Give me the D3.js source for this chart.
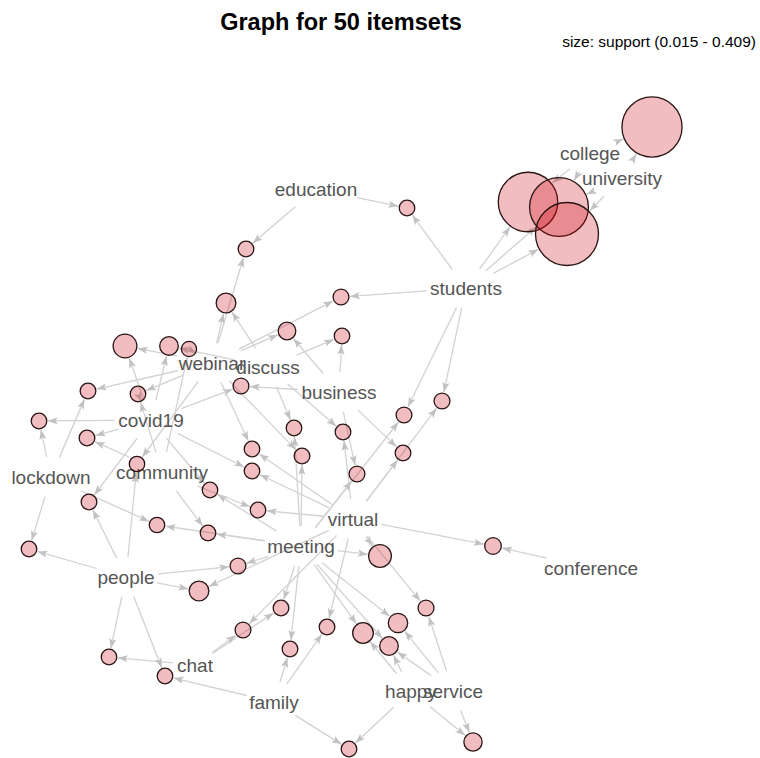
<!DOCTYPE html>
<html><head><meta charset="utf-8">
<script src="https://cdn.jsdelivr.net/npm/d3@7"></script>
<style>body{margin:0;background:#fff}svg{display:block}</style>
</head><body><svg id="c" width="760" height="758"></svg>
<script>
// ---- data ----
const title = "Graph for 50 itemsets";
const legendText = "size: support (0.015 - 0.409)";

const items = ["education","students","college","university","webinar","discuss","business","covid19","lockdown","community","virtual","meeting","people","conference","chat","family","happy","service"];
const itemX = [31.6,46.6,59.0,62.2,21.2,26.8,33.9,15.1,5.1,16.2,35.3,30.1,12.6,59.1,19.5,27.4,41.1,45.3];
const itemY = [18.9,28.8,15.3,17.8,36.3,36.7,39.2,42.0,47.7,47.2,51.9,54.6,57.7,56.8,66.5,70.2,69.1,69.1];

const itemsets = [
 ["education","students"],["education","webinar"],["webinar","discuss"],["students","webinar"],
 ["webinar","business"],["discuss","business"],["webinar","covid19"],["covid19","discuss"],
 ["webinar","community"],["webinar","lockdown"],["webinar","covid19","community"],["covid19","business"],
 ["covid19","lockdown"],["covid19","community"],["discuss","meeting"],["discuss","virtual"],
 ["students","meeting"],["students","virtual"],["webinar","virtual"],["webinar","meeting"],
 ["covid19","virtual"],["webinar","people"],["covid19","people"],["covid19","meeting"],
 ["business","meeting"],["business","virtual"],["community","virtual"],["lockdown","meeting"],
 ["community","meeting"],["lockdown","people"],["virtual","meeting"],["virtual","conference"],
 ["meeting","people"],["people","virtual"],["meeting","chat"],["virtual","service"],
 ["meeting","service"],["virtual","chat"],["virtual","family"],["meeting","happy"],
 ["meeting","happy","service"],["meeting","family"],["people","chat"],["people","family"],
 ["family","happy"],["happy","service"],
 ["college","university"],["students","college"],["students","college","university"],["students","university"]
];
const support = [0.018,0.019,0.052,0.020,0.035,0.018,0.085,0.043,0.015,0.019,0.018,0.020,
 0.018,0.019,0.018,0.019,0.020,0.021,0.018,0.019,0.018,0.017,0.019,0.018,0.020,0.019,0.018,
 0.017,0.018,0.018,0.077,0.027,0.020,0.052,0.019,0.021,0.050,0.020,0.019,0.060,0.043,0.019,
 0.018,0.018,0.018,0.040,0.385,0.380,0.375,0.409];
const setX = [40.7,24.6,22.6,34.1,28.7,34.2,12.5,16.9,18.9,8.8,13.8,24.1,3.9,8.7,29.4,34.3,
 40.4,44.2,25.2,30.2,25.2,13.7,8.9,21.0,35.7,40.3,25.8,15.7,20.8,2.9,38.0,49.3,23.8,19.9,
 28.1,42.6,39.8,24.3,32.7,36.3,38.9,29.0,10.9,16.5,34.9,47.3,65.2,52.8,55.9,56.7];
const setY = [20.8,24.9,30.3,29.7,33.1,33.6,34.6,34.6,34.9,39.1,39.4,38.6,42.1,43.8,42.8,43.2,
 41.5,40.1,44.9,45.6,47.1,46.4,50.2,49.0,47.4,45.3,51.0,52.5,53.3,54.9,55.6,54.6,56.6,59.1,
 60.8,60.8,62.3,63.0,62.7,63.3,64.6,64.9,65.7,67.6,74.9,74.2,12.7,20.2,20.7,23.4];

// ---- drawing ----
const svg = d3.select("#c");
const font = "'Liberation Sans', Arial, Helvetica, sans-serif";
const x = d3.scaleLinear().domain([0,76]).range([0,760]);
const y = d3.scaleLinear().domain([0,75.8]).range([0,758]);
const rs = d3.scaleLinear().domain([0.015,0.409]).range([7.6,31.5]);

svg.append("text").attr("x",341).attr("y",30).attr("text-anchor","middle")
  .attr("font-family",font).attr("font-weight","bold").attr("font-size",23.5).attr("fill","#000").text(title);
svg.append("text").attr("x",756).attr("y",47).attr("text-anchor","end")
  .attr("font-family",font).attr("font-size",15.5).attr("fill","#000").text(legendText);

const defs = svg.append("defs");
defs.append("marker").attr("id","arr").attr("viewBox","0 -4 10 8").attr("refX",10).attr("refY",0)
  .attr("markerWidth",10).attr("markerHeight",8).attr("markerUnits","userSpaceOnUse").attr("orient","auto")
  .append("path").attr("d","M0,-3.6L10,0L0,3.6L2.2,0Z").attr("fill","#c2c2c2");

const gEdges = svg.append("g");
const gLabels = svg.append("g");
const gNodes = svg.append("g");

const itemIdx = new Map(items.map((d,i)=>[d,i]));
const labels = gLabels.selectAll("text").data(items).join("text")
  .attr("x",(d,i)=>x(itemX[i])).attr("y",(d,i)=>y(itemY[i]))
  .attr("text-anchor","middle").attr("dominant-baseline","central")
  .attr("font-family",font).attr("font-size",19).attr("fill","#555").text(d=>d);
const halfW = [];
labels.each(function(){ halfW.push(this.getComputedTextLength()/2); });

const edges = [];
itemsets.forEach((set,j)=>{
  set.forEach(it=>{ edges.push({i:itemIdx.get(it), j}); });
});

gEdges.selectAll("line").data(edges).join("line")
  .each(function(e){
    const sx=x(itemX[e.i]), sy=y(itemY[e.i]);
    const tx=x(setX[e.j]), ty=y(setY[e.j]);
    const dx=tx-sx, dy=ty-sy, L=Math.hypot(dx,dy);
    const ux=dx/L, uy=dy/L;
    const a=halfW[e.i]+4, b=20;
    const d0 = 1/Math.sqrt((ux/a)**2+(uy/b)**2);
    const rr = rs(support[e.j]);
    d3.select(this)
      .attr("x1",sx+ux*d0).attr("y1",sy+uy*d0)
      .attr("x2",tx-ux*(rr+1)).attr("y2",ty-uy*(rr+1));
  })
  .attr("stroke","#d2d2d2").attr("stroke-width",1.3).attr("marker-end","url(#arr)");

gNodes.selectAll("circle").data(support).join("circle")
  .attr("cx",(d,i)=>x(setX[i])).attr("cy",(d,i)=>y(setY[i])).attr("r",d=>rs(d))
  .attr("fill","rgb(205,0,10)").attr("fill-opacity",0.26)
  .attr("stroke","#2a1515").attr("stroke-width",1.3);
</script></body></html>
